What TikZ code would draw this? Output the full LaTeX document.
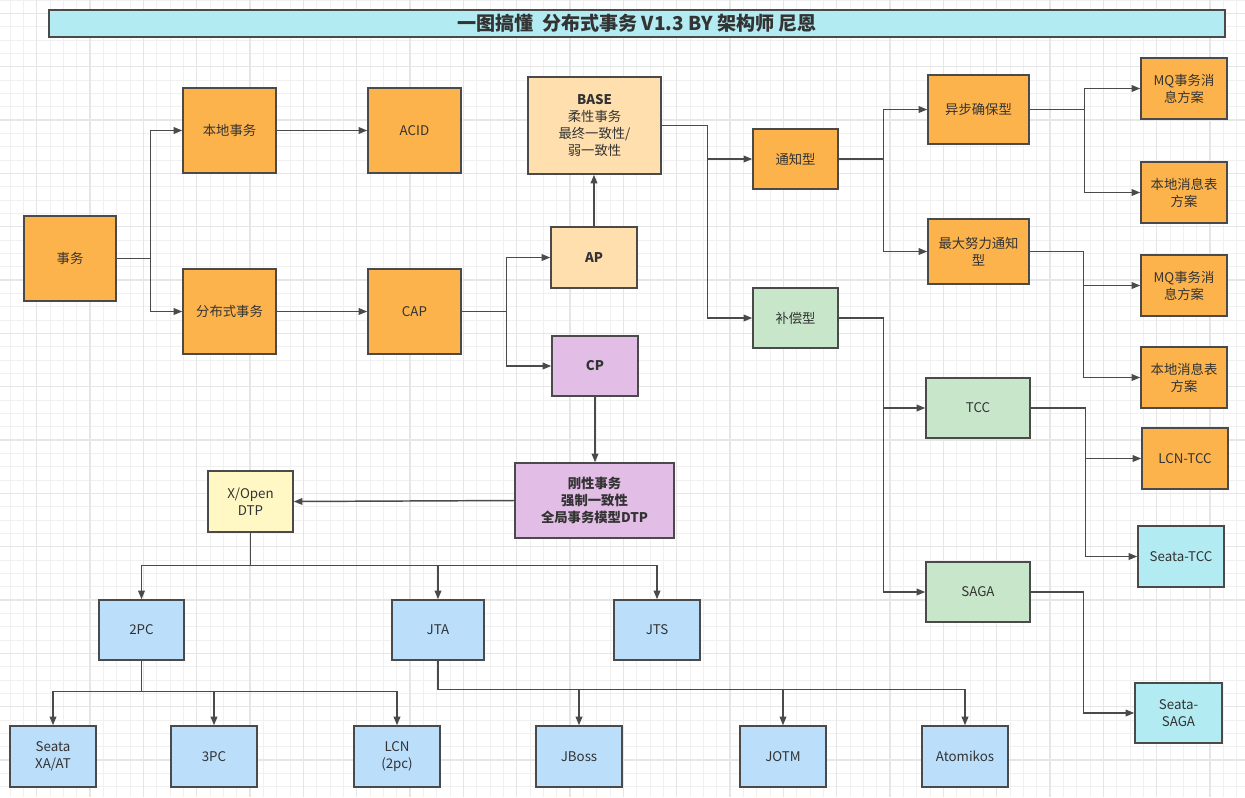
\documentclass[tikz,border=0pt]{standalone}
\usepackage{fontspec}
\setmainfont{Noto Sans CJK SC}
\usetikzlibrary{arrows.meta}
\definecolor{bord}{HTML}{4A4A4A}
\definecolor{txt}{HTML}{333333}
\definecolor{orng}{HTML}{FDB34C}
\definecolor{lorng}{HTML}{FFDFAD}
\definecolor{purp}{HTML}{E2BDE6}
\definecolor{grn}{HTML}{C8E6C9}
\definecolor{blu}{HTML}{BBDEFB}
\definecolor{cyn}{HTML}{B2EBF2}
\definecolor{ylw}{HTML}{FFF8C4}
\definecolor{gridminor}{HTML}{F0F0F0}
\definecolor{gridmajor}{HTML}{E6E6E6}
\newcommand\bx[7]{\node[box,#6,minimum width={(#4-#2)*0.75pt},minimum height={(#5-#3)*0.75pt}] (#1) at ({(#2+#4)/2},{(#3+#5)/2}) {#7};}
\tikzset{
  box/.style={draw=bord,line width=1.1pt,inner sep=0pt,align=center,text=txt,font=\fontsize{10}{12.8}\selectfont},
  arr/.style={draw=bord,line width=1.1pt,-{Triangle[length=6.5pt,width=5pt]}},
  ln/.style={draw=bord,line width=1.1pt}
}
\begin{document}
\begin{tikzpicture}[x=0.75pt,y=-0.75pt]
\useasboundingbox (0,0) rectangle (1245,797);
\fill[white] (0,0) rectangle (1245,797);
% grid
\foreach \i in {0,...,93} \draw[gridminor,line width=0.75pt] ({10+13.3333*\i},0) -- ({10+13.3333*\i},797);
\foreach \j in {0,...,60} \draw[gridminor,line width=0.75pt] (0,{13.3333*\j}) -- (1245,{13.3333*\j});
\foreach \i in {0,...,23} \draw[gridmajor,line width=0.9pt] ({36.667+53.3333*\i},0) -- ({36.667+53.3333*\i},797);
\foreach \j in {0,...,14} \draw[gridmajor,line width=0.9pt] (0,{13.333+53.3333*\j}) -- (1245,{13.333+53.3333*\j});
% title
\bx{title}{49}{10}{1225}{37}{fill=cyn,font=\fontsize{14.3}{16}\selectfont\bfseries}{一图搞懂\ \ 分布式事务\ V1.3\ BY\ 架构师\ 尼恩}
% nodes
\bx{sw}{24}{216}{116}{301}{fill=orng}{事务}
\bx{bd}{183}{88}{276}{173}{fill=orng}{本地事务}
\bx{acid}{368}{88}{461}{173}{fill=orng}{ACID}
\bx{fb}{183}{269}{276}{354}{fill=orng}{分布式事务}
\bx{cap}{368}{269}{461}{354}{fill=orng}{CAP}
\bx{base}{528}{77}{661}{174}{fill=lorng}{\textbf{BASE}\\柔性事务\\最终一致性/\\弱一致性}
\bx{ap}{551}{227}{637}{288}{fill=lorng,font=\fontsize{10}{12.8}\selectfont\bfseries}{AP}
\bx{cp}{552}{336}{638}{396}{fill=purp,font=\fontsize{10}{12.8}\selectfont\bfseries}{CP}
\bx{dtp}{515}{463}{674}{538}{fill=purp,font=\fontsize{10}{12.8}\selectfont\bfseries}{刚性事务\\强制一致性\\全局事务模型DTP}
\bx{tz}{753}{129}{838}{189}{fill=orng}{通知型}
\bx{bc}{753}{288}{838}{348}{fill=grn}{补偿型}
\bx{yb}{928}{75}{1029}{144}{fill=orng}{异步确保型}
\bx{zd}{928}{219}{1029}{284}{fill=orng}{最大努力通知\\型}
\bx{mqa}{1141}{58}{1227}{119}{fill=orng}{MQ事务消\\息方案}
\bx{bda}{1141}{162}{1227}{223}{fill=orng}{本地消息表\\方案}
\bx{mqb}{1141}{255}{1227}{316}{fill=orng}{MQ事务消\\息方案}
\bx{bdb}{1141}{347}{1227}{408}{fill=orng}{本地消息表\\方案}
\bx{tcc}{926}{378}{1030}{438}{fill=grn}{TCC}
\bx{lcntcc}{1142}{428}{1228}{489}{fill=orng}{LCN-TCC}
\bx{stcc}{1138}{526}{1224}{587}{fill=cyn}{Seata-TCC}
\bx{saga}{926}{562}{1030}{622}{fill=grn}{SAGA}
\bx{ssaga}{1135}{683}{1222}{743}{fill=cyn}{Seata-\\SAGA}
\bx{xo}{208}{471}{293}{532}{fill=ylw}{X/Open\\DTP}
\bx{pc2}{99}{600}{184}{660}{fill=blu}{2PC}
\bx{jta}{392}{600}{484}{660}{fill=blu}{JTA}
\bx{jts}{614}{600}{700}{660}{fill=blu}{JTS}
\bx{sxa}{10}{726}{96}{787}{fill=blu}{Seata\\XA/AT}
\bx{pc3}{171}{726}{257}{787}{fill=blu}{3PC}
\bx{lcn}{354}{726}{440}{787}{fill=blu}{LCN\\(2pc)}
\bx{jb}{536}{726}{622}{787}{fill=blu}{JBoss}
\bx{jo}{740}{726}{826}{787}{fill=blu}{JOTM}
\bx{ato}{922}{726}{1008}{787}{fill=blu}{Atomikos}
% connectors
\draw[arr] (sw.east) -- ++(34,0) |- (bd.west);
\draw[arr] (sw.east) -- ++(34,0) |- (fb.west);
\draw[arr] (bd) -- (acid);
\draw[arr] (fb) -- (cap);
\draw[arr] (cap.east) -- ++(45,0) |- (ap.west);
\draw[arr] (cap.east) -- ++(45,0) |- (cp.west);
\draw[arr] (ap.north) -- (ap.north |- base.south);
\draw[arr] (cp.south) -- (cp.south |- dtp.north);
\draw[arr] (dtp.west) -- (xo.east);
\draw[arr] (base.east) -- ++(46,0) |- (tz.west);
\draw[arr] (base.east) -- ++(46,0) |- (bc.west);
\draw[arr] (tz.east) -- ++(45,0) |- (yb.west);
\draw[arr] (tz.east) -- ++(45,0) |- (zd.west);
\draw[arr] (yb.east) -- ++(55,0) |- (mqa.west);
\draw[arr] (yb.east) -- ++(55,0) |- (bda.west);
\draw[arr] (zd.east) -- ++(54,0) |- (mqb.west);
\draw[arr] (zd.east) -- ++(54,0) |- (bdb.west);
\draw[arr] (bc.east) -- ++(45,0) |- (tcc.west);
\draw[arr] (bc.east) -- ++(45,0) |- (saga.west);
\draw[arr] (tcc.east) -- ++(55,0) |- (lcntcc.west);
\draw[arr] (tcc.east) -- ++(55,0) |- (stcc.west);
\draw[arr] (saga.east) -- ++(53,0) |- (ssaga.west);
\draw[arr] (xo.south) |- ++(0,33) -| (pc2.north);
\draw[arr] (xo.south) |- ++(0,33) -| (jta.north);
\draw[arr] (xo.south) |- ++(0,33) -| (jts.north);
\draw[arr] (pc2.south) |- ++(0,31) -| (sxa.north);
\draw[arr] (pc2.south) |- ++(0,31) -| (pc3.north);
\draw[arr] (pc2.south) |- ++(0,31) -| (lcn.north);
\draw[arr] (jta.south) |- ++(0,29) -| (jb.north);
\draw[arr] (jta.south) |- ++(0,29) -| (jo.north);
\draw[arr] (jta.south) |- ++(0,29) -| (ato.north);
\end{tikzpicture}
\end{document}
